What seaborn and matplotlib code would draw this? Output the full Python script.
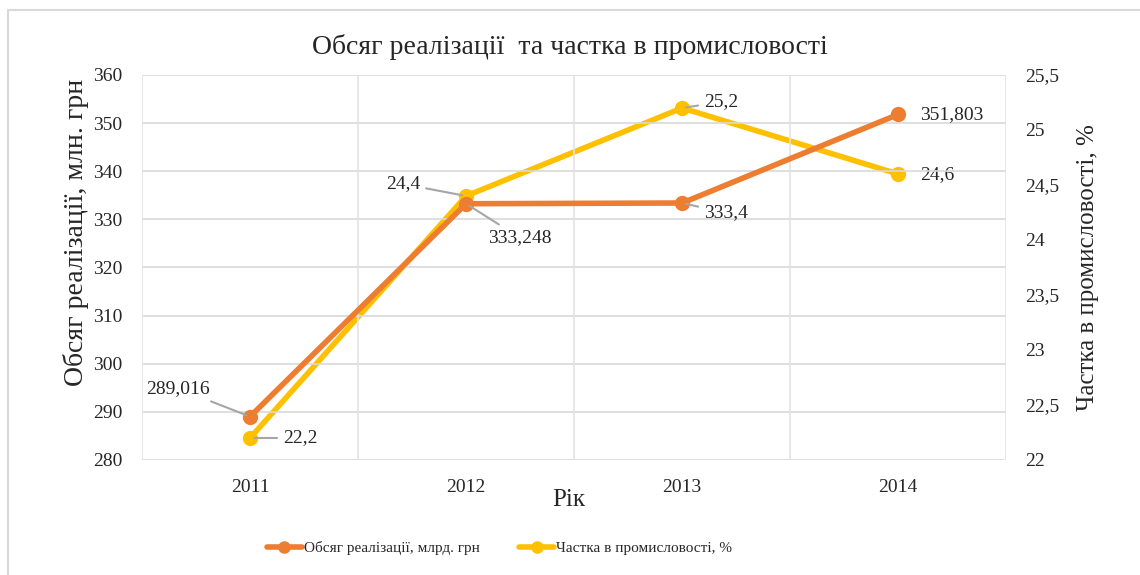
import matplotlib
matplotlib.use("Agg")
import matplotlib.pyplot as plt
import seaborn as sns
import pandas as pd
from matplotlib.lines import Line2D
from matplotlib.patches import Rectangle

sns.set_style("white")
plt.rcParams["font.family"] = ["Liberation Serif", "DejaVu Serif"]

years = ["2011", "2012", "2013", "2014"]
sales = [289.016, 333.248, 333.4, 351.803]
share = [22.2, 24.4, 25.2, 24.6]
sales_labels = ["289,016", "333,248", "333,4", "351,803"]
share_labels = ["22,2", "24,4", "25,2", "24,6"]
left_ticks = [280, 290, 300, 310, 320, 330, 340, 350, 360]
right_ticks = [22, 22.5, 23, 23.5, 24, 24.5, 25, 25.5]

orange = "#ED7D31"
yellow = "#FFC000"
grid = "#D9D9D9"
lead = "#A6A6A6"

df = pd.DataFrame({"x": range(len(years)), "sales": sales, "share": share})

fig = plt.figure(figsize=(11.4, 5.75), dpi=100)
ax = fig.add_axes([0.1246, 0.2, 0.758, 0.6696])
ax2 = ax.twinx()

# outer frame of the chart
fig.patches.append(Rectangle((8 / 1140, -0.1), 1.2, 1 - 10 / 575 + 0.1, transform=fig.transFigure,
                             fill=False, edgecolor="#D9D9D9", linewidth=1.5))

sns.lineplot(data=df, x="x", y="sales", ax=ax, color=orange, linewidth=4, marker="o",
             markersize=11, markeredgewidth=0, zorder=3)
sns.lineplot(data=df, x="x", y="share", ax=ax2, color=yellow, linewidth=4, marker="o",
             markersize=11, markeredgewidth=0, zorder=3)

ax.set_xlim(-0.5, len(years) - 0.5)
ax.set_ylim(280, 360)
ax2.set_ylim(22, 25.5)
ax.set_xticks(range(len(years)))
ax.set_xticklabels(years)
ax.set_yticks(left_ticks)
ax.set_yticklabels([str(t) for t in left_ticks])
ax2.set_yticks(right_ticks)
ax2.set_yticklabels([("%g" % t).replace(".", ",") for t in right_ticks])

for a in (ax, ax2):
    for s in a.spines.values():
        s.set_visible(False)
    a.tick_params(length=0, labelsize=14, labelcolor="#262626")
    a.grid(False)
ax.tick_params(axis="y", pad=14)
ax.tick_params(axis="x", pad=14)
ax2.tick_params(axis="y", pad=14)

for t in left_ticks:
    ax.axhline(t, color=grid, linewidth=1.2, zorder=0)
for b in [-0.5, 0.5, 1.5, 2.5, 3.5]:
    ax.axvline(b, color="#E3E3E3", linewidth=1.2, zorder=0)

ax.set_zorder(ax2.get_zorder() + 1)
ax.patch.set_visible(False)

ax.set_xlabel("Рік", fontsize=18)
ax.xaxis.set_label_coords(0.494, -0.075)
ax.set_ylabel("Обсяг реалізації, млн. грн", fontsize=20)
ax.yaxis.set_label_coords(-0.061, 0.592)
ax2.set_ylabel("Частка в промисловості, %", fontsize=18)
ax2.yaxis.set_label_coords(1.082, 0.5)
fig.text(0.5, 1 - 47 / 575, "Обсяг реалізації  та частка в промисловості", ha="center", va="center",
         fontsize=20)

arrow = dict(arrowstyle="-", color=lead, linewidth=1.5, shrinkA=2, shrinkB=3)
# data labels for sales (left axis)
sales_off = [(-40, 28, "right", True), (22, -34, "left", True), (22, -10, "left", True), (22, 0, "left", False)]
for i, (dx, dy, ha, line) in enumerate(sales_off):
    ax.annotate(sales_labels[i], (i, sales[i]), xytext=(dx, dy), textcoords="offset pixels",
                ha=ha, va="center", fontsize=14, zorder=5,
                arrowprops=arrow if line else None)
share_off = [(33, 0, "left", True), (-46, 12, "right", True), (22, 6, "left", True), (22, -1, "left", False)]
for i, (dx, dy, ha, line) in enumerate(share_off):
    ax2.annotate(share_labels[i], (i, share[i]), xytext=(dx, dy), textcoords="offset pixels",
                 ha=ha, va="center", fontsize=14, zorder=5,
                 arrowprops=arrow if line else None)

handles = [Line2D([], [], color=orange, linewidth=4, marker="o", markersize=9, markeredgewidth=0),
           Line2D([], [], color=yellow, linewidth=4, marker="o", markersize=9, markeredgewidth=0)]
fig.legend(handles, ["Обсяг реалізації, млрд. грн", "Частка в промисловості, %"], loc="center",
           bbox_to_anchor=(0.438, 1 - 548 / 575), ncol=2, frameon=False, fontsize=11,
           handlelength=2.3, handletextpad=0.1, columnspacing=2.6)

plt.savefig("out.png", dpi=100)
